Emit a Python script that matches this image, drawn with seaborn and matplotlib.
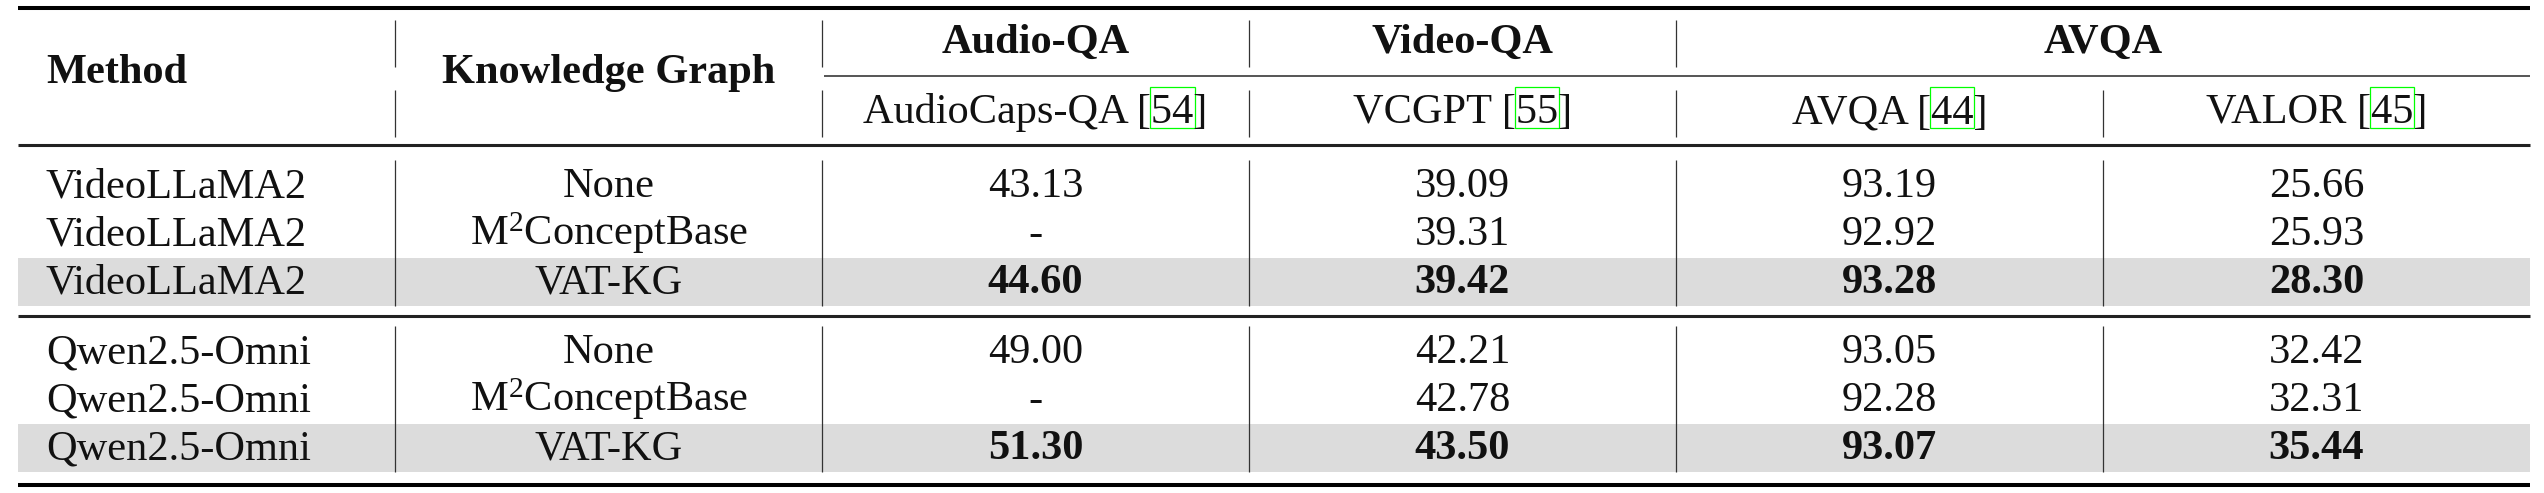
import matplotlib
matplotlib.use("Agg")
import matplotlib.pyplot as plt
import seaborn as sns

# Table content
methods = ["VideoLLaMA2", "VideoLLaMA2", "VideoLLaMA2",
           "Qwen2.5-Omni", "Qwen2.5-Omni", "Qwen2.5-Omni"]
knowledge_graphs = ["None", "M$^2$ConceptBase", "VAT-KG",
                    "None", "M$^2$ConceptBase", "VAT-KG"]
audiocaps_qa = [43.13, None, 44.60, 49.00, None, 51.30]
vcgpt = [39.09, 39.31, 39.42, 42.21, 42.78, 43.50]
avqa = [93.19, 92.92, 93.28, 93.05, 92.28, 93.07]
valor = [25.66, 25.93, 28.30, 32.42, 32.31, 35.44]
groups = [0, 0, 0, 1, 1, 1]

task_names = ["Audio-QA", "Video-QA", "AVQA"]
task_spans = [(0, 1), (1, 2), (2, 4)]
dataset_names = ["AudioCaps-QA", "VCGPT", "AVQA", "VALOR"]
dataset_refs = ["54", "55", "44", "45"]
highlight_kg = "VAT-KG"

# Style
sns.set_theme(style="white")
plt.rcParams["font.family"] = ["Liberation Serif", "DejaVu Serif"]
plt.rcParams["mathtext.fontset"] = "custom"
plt.rcParams["mathtext.rm"] = "Liberation Serif"
plt.rcParams["mathtext.it"] = "Liberation Serif:italic"
plt.rcParams["mathtext.bf"] = "Liberation Serif:bold"

W, H = 2544, 493
fig = plt.figure(figsize=(W / 100, H / 100), dpi=100)
ax = fig.add_axes([0, 0, 1, 1])
ax.set_xlim(0, W)
ax.set_ylim(H, 0)
ax.axis("off")
sns.despine(ax=ax, left=True, bottom=True)

# layout (pixels)
x_left, x_right = 18, 2530
method_x = 46
col_edges = [395, 822, 1249, 1676, 2103, 2530]
fs = 30.5
ink = "#111111"

# rules
ax.hlines(8, x_left, x_right, color="black", lw=2.9)
ax.hlines(485, x_left, x_right, color="black", lw=2.9)
ax.hlines(145, x_left, x_right, color="#222222", lw=2.2)
ax.hlines(316, x_left, x_right, color="#222222", lw=2.2)
ax.hlines(76, col_edges[1] + 2, x_right, color="#555555", lw=1.4)

# header
ax.text(method_x, 83, "Method", fontsize=fs, fontweight="bold", ha="left", va="baseline", color=ink)
kg_cx = (col_edges[0] + col_edges[1]) / 2
ax.text(kg_cx, 83, "Knowledge Graph", fontsize=fs, fontweight="bold", ha="center", va="baseline", color=ink)
for name, (a, b) in zip(task_names, task_spans):
    cx = (col_edges[1 + a] + col_edges[1 + b]) / 2
    ax.text(cx, 53, name, fontsize=fs, fontweight="bold", ha="center", va="baseline", color=ink)

fig.canvas.draw()
renderer = fig.canvas.get_renderer()


def text_width(s, **kw):
    t = ax.text(0, 0, s, fontsize=fs, **kw)
    w = t.get_window_extent(renderer).width
    t.remove()
    return w


for i, (name, ref) in enumerate(zip(dataset_names, dataset_refs)):
    cx = (col_edges[1 + i] + col_edges[2 + i]) / 2
    full = f"{name} [{ref}]"
    ax.text(cx, 123, full, fontsize=fs, ha="center", va="baseline", color=ink)
    total = text_width(full)
    pre = text_width(f"{name} [")
    num = text_width(ref)
    x0 = cx - total / 2 + pre
    ax.add_patch(plt.Rectangle((x0 - 1, 87), num + 2, 41, fill=False,
                               edgecolor=(0, 1, 0), lw=0.9))

# header vertical lines
for j, x in enumerate(col_edges[:-1]):
    if j != 4:
        ax.vlines(x, 20, 67, color="#333333", lw=0.9)
    ax.vlines(x, 90, 137, color="#333333", lw=0.9)

# body
pitch = 48
group_base = [197, 363]
columns = [audiocaps_qa, vcgpt, avqa, valor]
for g in (0, 1):
    rows = [i for i in range(len(methods)) if groups[i] == g]
    base0 = group_base[g]
    for k, i in enumerate(rows):
        yb = base0 + k * pitch
        hl = knowledge_graphs[i] == highlight_kg
        if hl:
            ax.axhspan(yb - 35, yb + 13, xmin=x_left / W, xmax=x_right / W,
                       color="#dcdcdc", lw=0, zorder=0)
        ax.text(method_x, yb, methods[i], fontsize=fs, ha="left", va="baseline", color=ink)
        ax.text(kg_cx, yb, knowledge_graphs[i], fontsize=fs, ha="center", va="baseline", color=ink)
        for c, vals in enumerate(columns):
            cx = (col_edges[1 + c] + col_edges[2 + c]) / 2
            v = vals[i]
            s = "-" if v is None else f"{v:.2f}"
            ax.text(cx, yb, s, fontsize=fs, ha="center", va="baseline", color=ink,
                    fontweight="bold" if hl else "normal")
    top = base0 - 37
    bottom = base0 + (len(rows) - 1) * pitch + 13
    for x in col_edges[:-1]:
        ax.vlines(x, top, bottom, color="#333333", lw=0.9)

fig.savefig("out.png", dpi=100, facecolor="white")
